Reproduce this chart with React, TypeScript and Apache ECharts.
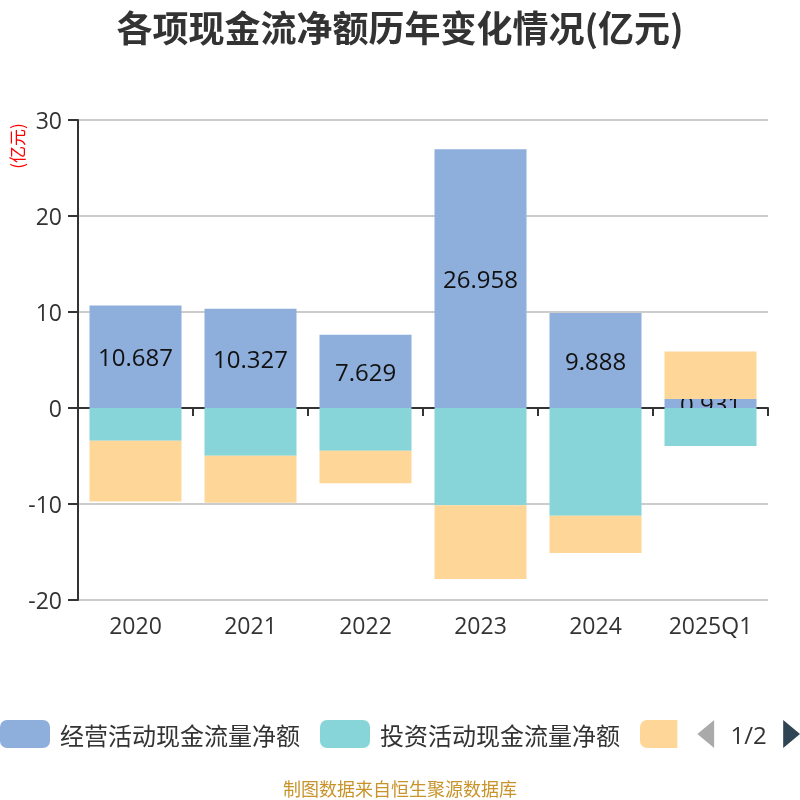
import React, { useEffect, useRef } from "react";
import * as echarts from "echarts";

const categories = ["2020", "2021", "2022", "2023", "2024", "2025Q1"];
const seriesNames = ["经营活动现金流量净额", "投资活动现金流量净额", "筹资活动现金流量净额"];
const operating = [10.687, 10.327, 7.629, 26.958, 9.888, 0.931];
const investing = [-3.4, -4.97, -4.45, -10.14, -11.22, -3.96];
const financing = [-6.33, -4.89, -3.4, -7.67, -3.88, 4.96];
const yTicks = { min: -20, max: 30, interval: 10 };
const colors = ["#8eaedb", "#87d5d8", "#fed798"];

const FONT = "'Noto Sans CJK SC', 'Noto Sans', sans-serif";
const NUMFONT = "'Open Sans', 'Noto Sans CJK SC', sans-serif";

export default function App() {
  const ref = useRef<HTMLDivElement>(null);
  useEffect(() => {
    if (!ref.current) return;
    const chart = echarts.init(ref.current, null, { renderer: "svg" });
    chart.setOption({
      animation: false,
      textStyle: { fontFamily: FONT },
      title: {
        text: "各项现金流净额历年变化情况(亿元)",
        left: "center",
        top: 3,
        textStyle: { fontSize: 36, fontWeight: "bold", color: "#333", fontFamily: FONT },
      },
      grid: { left: 78, right: 32, top: 120, bottom: 200, containLabel: false },
      legend: {
        type: "scroll",
        left: 0,
        right: 0,
        top: 720,
        padding: 0,
        itemWidth: 50,
        itemHeight: 28,
        itemGap: 20,
        icon: "roundRect",
        textStyle: { fontSize: 24, color: "#333", fontFamily: FONT, padding: [0, 0, 0, 5] },
        pageIconColor: "#2f4554",
        pageIconInactiveColor: "#aaa",
        pageIconSize: [18, 28],
        pageTextStyle: { fontSize: 24, color: "#333", fontFamily: NUMFONT },
        data: seriesNames,
      },
      xAxis: [
        {
          type: "category",
          data: categories,
          position: "bottom",
          axisLine: { show: false, onZero: false },
          axisTick: { show: false },
          axisLabel: { fontSize: 23, color: "#333", margin: 13, fontFamily: NUMFONT },
        },
        {
          type: "category",
          data: categories,
          position: "bottom",
          axisLine: { show: true, onZero: true, lineStyle: { color: "#333", width: 2 } },
          axisTick: { show: true, length: 8, lineStyle: { color: "#333", width: 2 } },
          axisLabel: { show: false },
        },
      ],
      yAxis: {
        type: "value",
        min: yTicks.min,
        max: yTicks.max,
        interval: yTicks.interval,
        axisLine: { show: true, lineStyle: { color: "#333", width: 2 } },
        axisTick: { show: true, length: 10, lineStyle: { color: "#333", width: 2 } },
        axisLabel: { fontSize: 23, color: "#333", margin: 16, fontFamily: NUMFONT },
        splitLine: { lineStyle: { color: "#ccc", width: 2 } },
      },
      graphic: [
        {
          type: "text",
          x: 16,
          y: 146,
          rotation: Math.PI / 2,
          style: {
            text: "(亿元)",
            fill: "#ff0000",
            fontSize: 17,
            fontFamily: FONT,
            align: "center",
            verticalAlign: "middle",
          },
        },
        {
          type: "text",
          x: 400,
          y: 788,
          style: {
            text: "制图数据来自恒生聚源数据库",
            fill: "#c8932a",
            fontSize: 18,
            fontFamily: FONT,
            align: "center",
            verticalAlign: "middle",
          },
        },
      ],
      series: [
        {
          name: seriesNames[0],
          type: "bar",
          stack: "total",
          barWidth: "80%",
          z: 2,
          data: operating,
          itemStyle: { color: colors[0] },
          label: {
            show: true,
            position: "inside",
            fontSize: 24,
            color: "#111",
            fontFamily: NUMFONT,
          },
        },
        {
          name: seriesNames[1],
          type: "bar",
          stack: "total",
          barWidth: "80%",
          z: 3,
          data: investing,
          itemStyle: { color: colors[1] },
        },
        {
          name: seriesNames[2],
          type: "bar",
          stack: "total",
          barWidth: "80%",
          z: 3,
          data: financing,
          itemStyle: { color: colors[2] },
        },
      ],
    });
    return () => chart.dispose();
  }, []);
  return (
    <div
      ref={ref}
      style={{ position: "fixed", left: 0, top: 0, width: 800, height: 800 }}
    />
  );
}
